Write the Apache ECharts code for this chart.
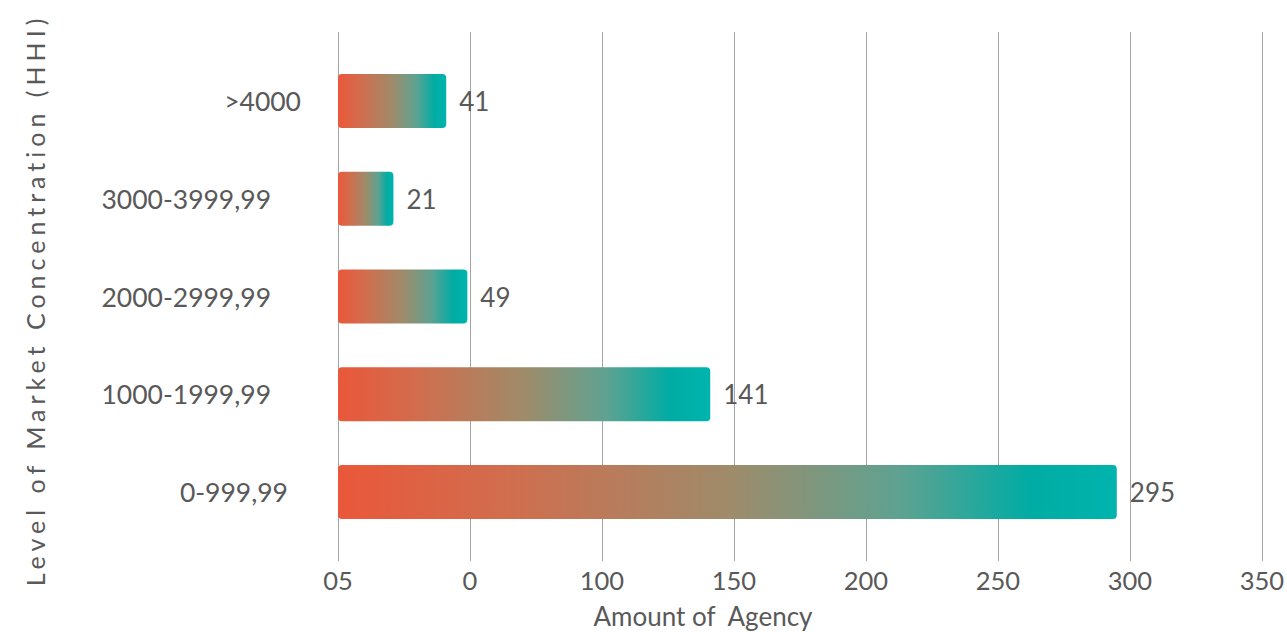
<!DOCTYPE html>
<html>
<head>
<meta charset="utf-8">
<title>Level of Market Concentration (HHI)</title>
<script src="https://cdn.jsdelivr.net/npm/echarts@6/dist/echarts.min.js"></script>
<style>
  html, body { margin: 0; padding: 0; background: #ffffff; }
  #chart { width: 1287px; height: 632px; }
  #chart text { white-space: pre; }
</style>
</head>
<body>
<div id="chart"></div>
<script>
// HHI bands, listed top to bottom
const categories = ['>4000', '3000-3999,99', '2000-2999,99', '1000-1999,99', '0-999,99'];
// number of agencies in each band
const agencyCounts = [41, 21, 49, 141, 295];
// x-axis tick labels, one per 50 units from 0 to 350
const tickLabels = ['05', '0', '100', '150', '200', '250', '300', '350'];
const xMin = 0;
const xMax = 350;
const xStep = 50;

const yTitle = 'Level of Market Concentration (HHI)';
const xTitle = 'Amount of  Agency';

// extra right padding for each category label, top to bottom
const labelRightPad = [0, 30, 30, 30, 13];

const textColor = '#595959';
const fontFamily = 'Lato, "Noto Sans", sans-serif';

const rich = {};
labelRightPad.forEach((p, i) => {
  rich['p' + i] = { padding: [0, p, 0, 0], fontSize: 26.5, fontFamily: fontFamily, color: textColor };
});

const barGradient = new echarts.graphic.LinearGradient(0, 0, 1, 0, [
  { offset: 0, color: '#EA573A' },
  { offset: 0.22, color: '#D06E4E' },
  { offset: 0.5, color: '#9F8B6A' },
  { offset: 0.72, color: '#5FA291' },
  { offset: 0.89, color: '#00ACA4' },
  { offset: 1, color: '#00B4AD' }
]);

const chart = echarts.init(document.getElementById('chart'), null, { renderer: 'svg' });

chart.setOption({
  animation: false,
  backgroundColor: '#ffffff',
  grid: [
    // gridline area
    { left: 338, right: 25, top: 32, bottom: 71 },
    // bar area
    { left: 338, right: 25, top: 52, bottom: 91 }
  ],
  xAxis: [
    {
      gridIndex: 0,
      type: 'value',
      min: xMin,
      max: xMax,
      interval: xStep,
      axisLine: { show: false },
      axisTick: { show: false },
      splitLine: { show: true, lineStyle: { color: '#A3A3A3', width: 1 } },
      axisLabel: {
        margin: 6,
        fontSize: 25.5,
        fontFamily: fontFamily,
        color: textColor,
        formatter: v => tickLabels[Math.round((v - xMin) / xStep)]
      }
    },
    {
      gridIndex: 1,
      type: 'value',
      min: xMin,
      max: xMax,
      interval: xStep,
      show: false
    }
  ],
  yAxis: [
    {
      gridIndex: 0,
      type: 'value',
      show: false
    },
    {
      gridIndex: 1,
      type: 'category',
      inverse: true,
      data: categories,
      axisLine: { show: false },
      axisTick: { show: false },
      splitLine: { show: false },
      axisLabel: {
        margin: 37,
        formatter: (v, i) => '{p' + i + '|' + v + '}',
        rich: rich
      }
    }
  ],
  series: [
    {
      type: 'bar',
      xAxisIndex: 1,
      yAxisIndex: 1,
      data: agencyCounts,
      barWidth: 54,
      itemStyle: { color: barGradient, borderRadius: 4 },
      label: {
        show: true,
        position: 'right',
        distance: 13,
        fontSize: 26,
        fontFamily: fontFamily,
        color: textColor
      }
    }
  ],
  graphic: [
    {
      type: 'text',
      x: 703,
      y: 616,
      style: {
        text: xTitle,
        fontSize: 26,
        fontFamily: fontFamily,
        fill: textColor,
        textAlign: 'center',
        textVerticalAlign: 'middle'
      }
    },
    {
      type: 'text',
      x: 35,
      y: 300,
      rotation: Math.PI / 2,
      style: {
        text: yTitle,
        fontSize: 25,
        fontFamily: fontFamily,
        fill: textColor,
        textAlign: 'center',
        textVerticalAlign: 'middle'
      }
    }
  ]
});

// widen the letter spacing of the vertical axis title
document.querySelectorAll('#chart text').forEach(t => {
  if (t.textContent === yTitle) {
    t.style.letterSpacing = '5px';
  }
});
</script>
</body>
</html>
